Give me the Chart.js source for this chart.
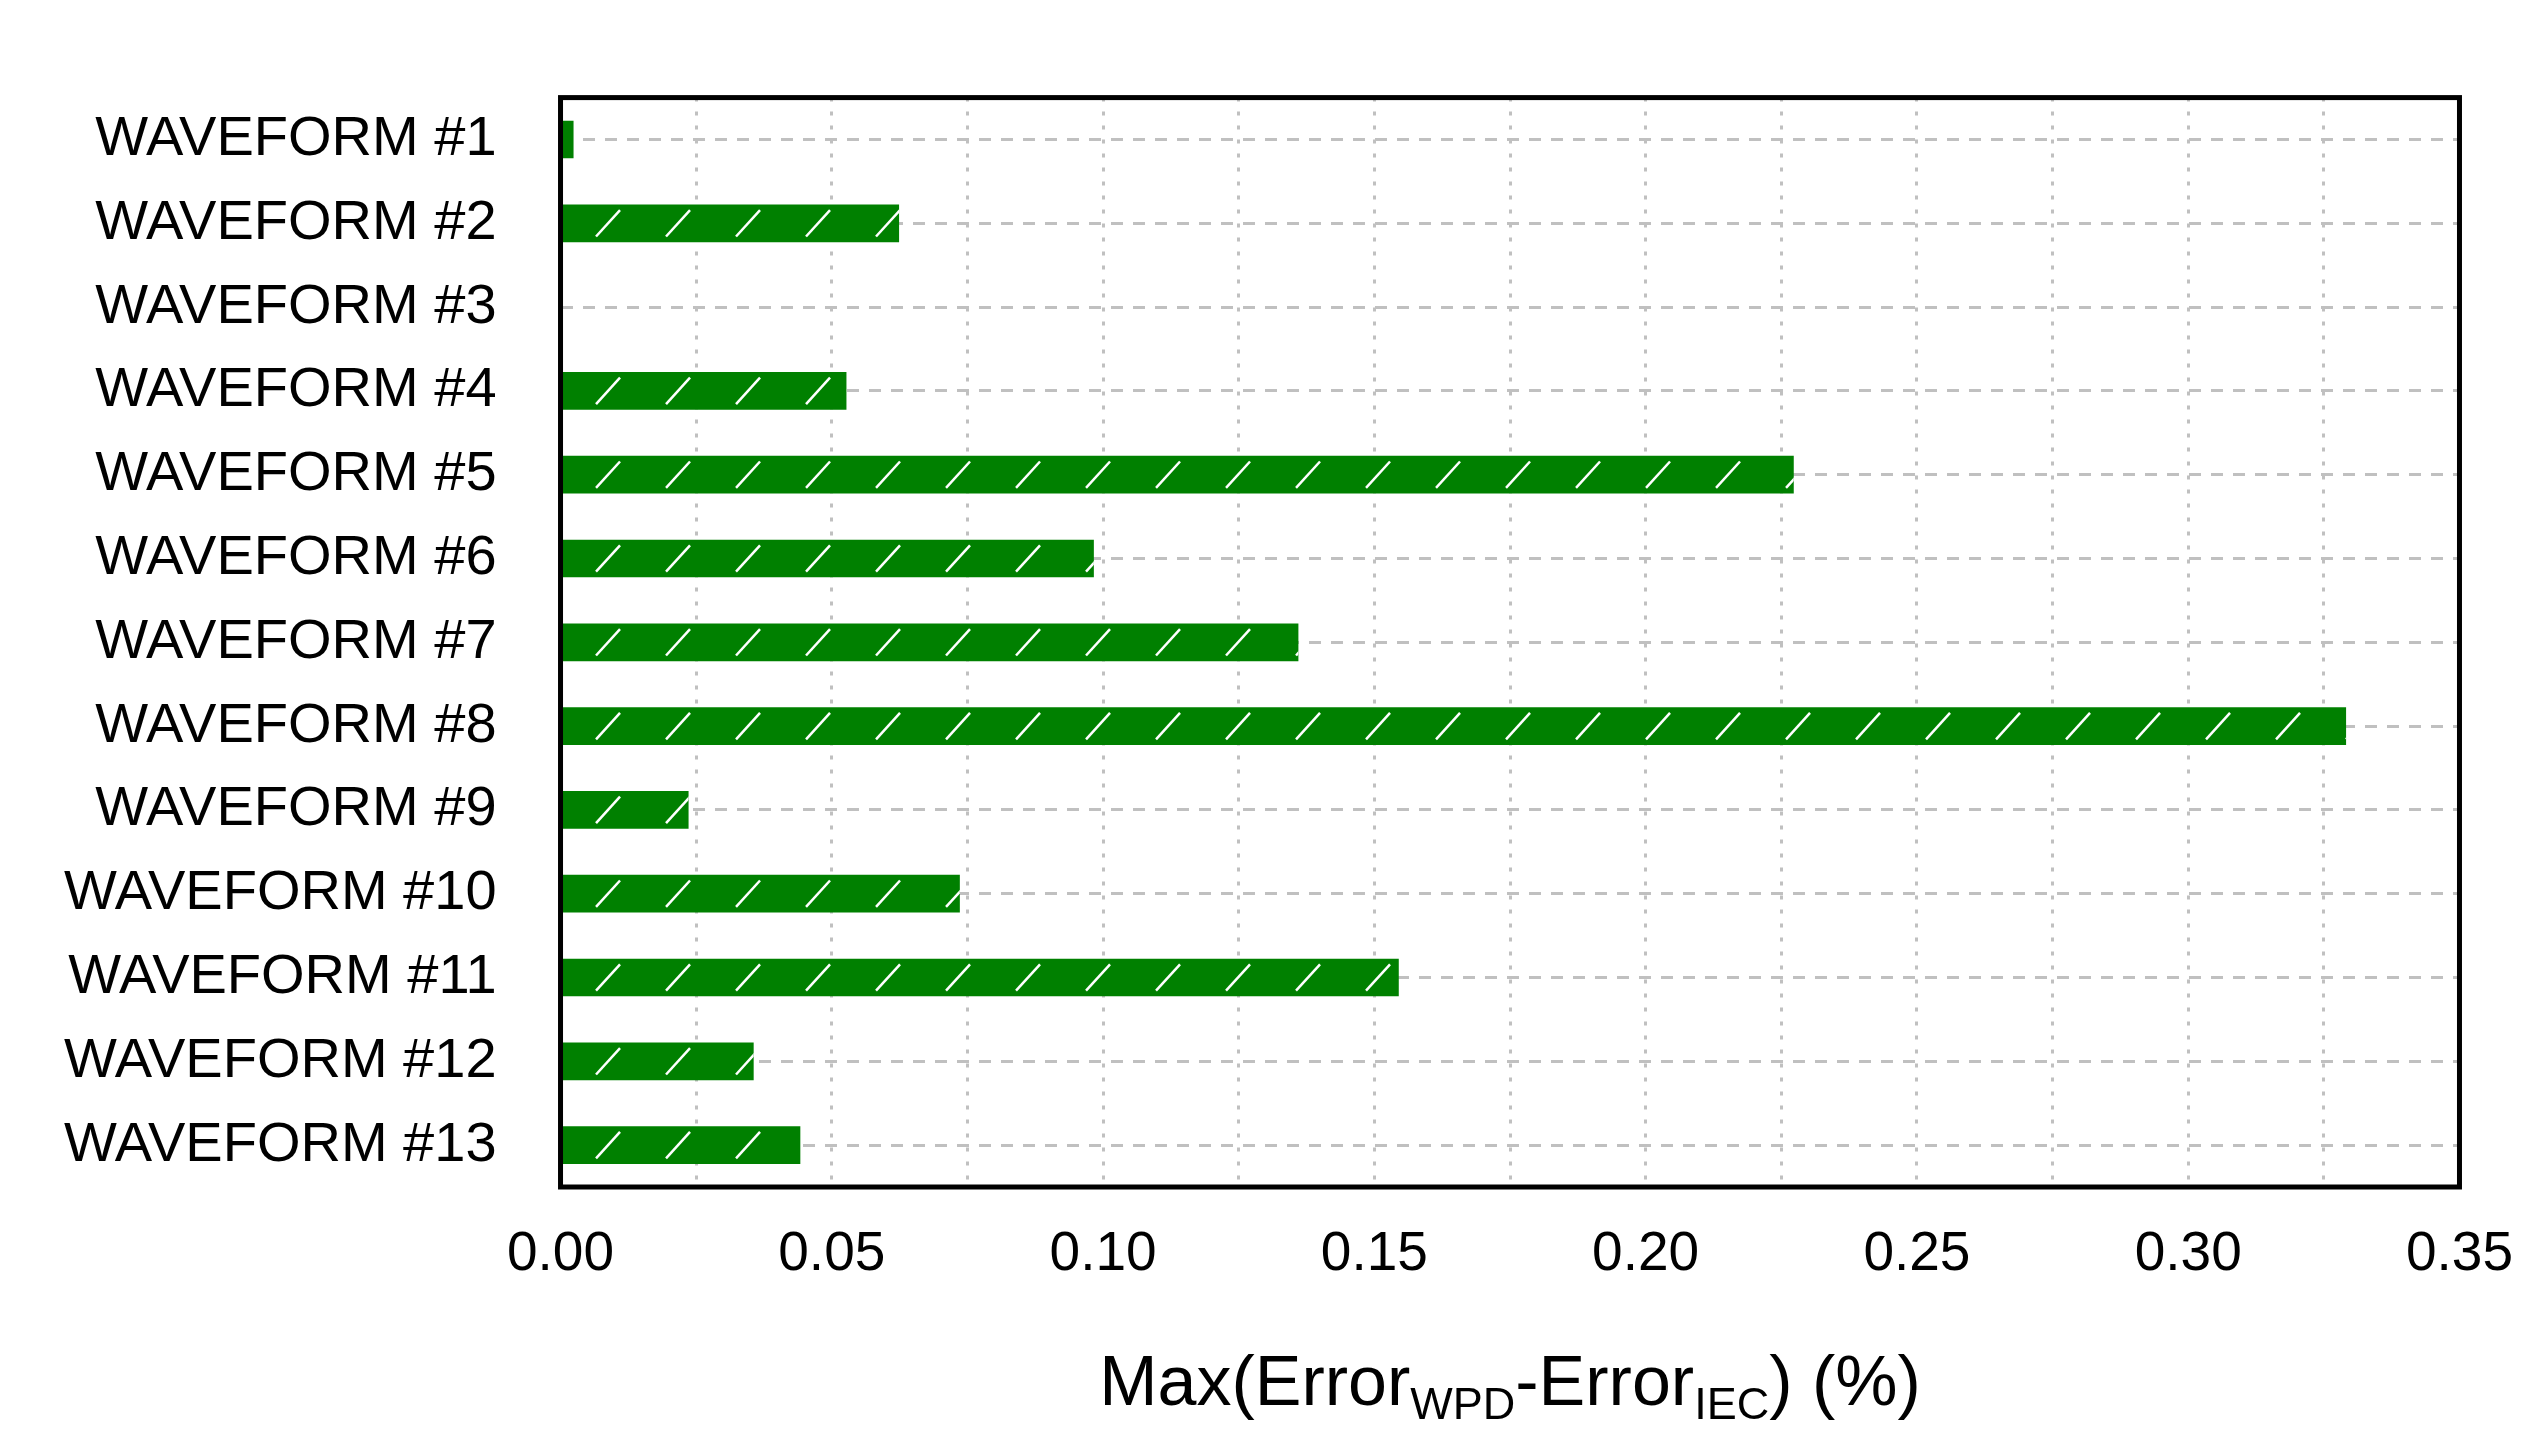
<!DOCTYPE html>
<html><head><meta charset="utf-8">
<script src="https://cdn.jsdelivr.net/npm/chart.js@4"></script>
<style>html,body{margin:0;padding:0;background:#fff}#w{width:2548px;height:1453px}</style>
</head><body><div id="w"><canvas id="c"></canvas></div>
<script>
const categories = ['WAVEFORM #1','WAVEFORM #2','WAVEFORM #3','WAVEFORM #4','WAVEFORM #5','WAVEFORM #6','WAVEFORM #7','WAVEFORM #8','WAVEFORM #9','WAVEFORM #10','WAVEFORM #11','WAVEFORM #12','WAVEFORM #13'];
const values = [0.0024,0.0624,0,0.0527,0.2273,0.0983,0.136,0.3291,0.0236,0.0736,0.1545,0.0356,0.0442];
const xMin = 0, xMax = 0.35, xStep = 0.025;
const FONT = "'Liberation Sans', Arial, sans-serif";

const hatch = {
  id:'hatch',
  afterDatasetsDraw(chart){
    const ctx = chart.ctx;
    chart.getDatasetMeta(0).data.forEach(b=>{
      const x0=Math.min(b.base,b.x), x1=Math.max(b.base,b.x);
      const h=b.height, top=b.y-h/2;
      if(x1-x0<2) return;
      ctx.save();
      ctx.beginPath(); ctx.rect(x0,top,x1-x0,h); ctx.clip();
      ctx.strokeStyle='#fff'; ctx.lineWidth=2.5;
      for(let x=x0+34;x<x1+40;x+=70){
        ctx.beginPath(); ctx.moveTo(x,top+h*0.85); ctx.lineTo(x+24,top+h*0.15); ctx.stroke();
      }
      ctx.restore();
    });
  }
};
const frame = {
  id:'frame',
  afterDraw(chart){
    const {ctx,chartArea:a}=chart;
    ctx.save(); ctx.strokeStyle='#000'; ctx.lineWidth=5;
    ctx.strokeRect(a.left,a.top,a.right-a.left,a.bottom-a.top);
    const parts=[['Max(Error',70,0],['WPD',45,14],['-Error',70,0],['IEC',45,14],[') (%)',70,0]];
    let w=0; parts.forEach(p=>{ctx.font=p[1]+'px '+FONT; w+=ctx.measureText(p[0]).width;});
    let x=(a.left+a.right)/2-w/2; const y=1405;
    ctx.fillStyle='#000'; ctx.textBaseline='alphabetic';
    parts.forEach(p=>{ctx.font=p[1]+'px '+FONT; ctx.fillText(p[0],x,y+p[2]); x+=ctx.measureText(p[0]).width;});
    ctx.restore();
  }
};
new Chart(document.getElementById('c'),{
  type:'bar',
  data:{labels:categories,datasets:[{data:values,backgroundColor:'#008000',borderWidth:0,barPercentage:0.45,categoryPercentage:1}]},
  options:{
    indexAxis:'y',responsive:true,maintainAspectRatio:false,animation:false,
    layout:{padding:{left:0,right:59,top:-48,bottom:130}},
    plugins:{legend:{display:false},tooltip:{enabled:false}},
    scales:{
      x:{min:xMin,max:xMax,
        ticks:{stepSize:xStep,font:{family:FONT,size:55},color:'#000',padding:35,
          callback:(v)=>{const r=Math.round(v*1000);return r%50===0?(v).toFixed(2):'';}},
        grid:{color:'#c0c0c0',lineWidth:3,tickLength:0,drawTicks:false},
        border:{display:false,dash:[4,10]}},
      y:{ticks:{font:{family:FONT,size:56},color:'#000',padding:64},
        grid:{color:'#c0c0c0',lineWidth:3,drawTicks:false,offset:false},
        border:{display:false,dash:[12,10]}}
    }
  },
  plugins:[hatch,frame]
});
</script></body></html>
